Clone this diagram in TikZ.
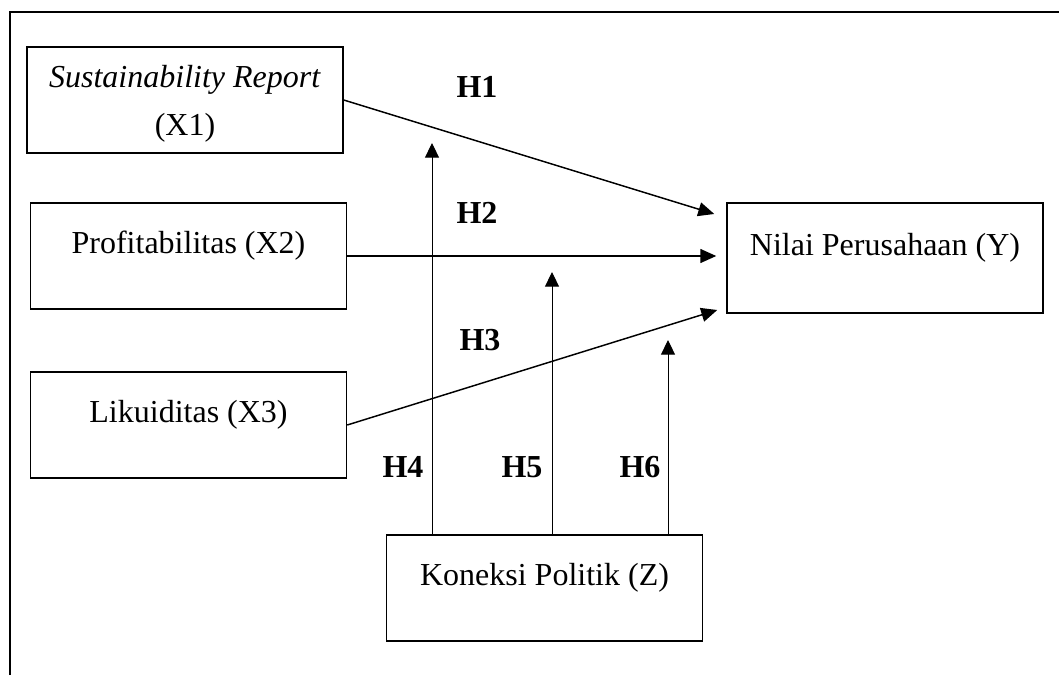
\documentclass[tikz,border=0pt]{standalone}
\usepackage{fontspec}
\setmainfont{Liberation Serif}
\usetikzlibrary{arrows.meta,calc}
\tikzset{
  varbox/.style={draw, line width=1.1pt, minimum width=237pt,
    minimum height=79.5pt, inner sep=0pt, align=center,
    font=\fontsize{24}{36}\selectfont},
  onebox/.style={varbox, text height=18pt, text depth=22pt},
  hlabel/.style={font=\fontsize{24}{28}\selectfont\bfseries, inner sep=0pt},
  arr/.style={-{Triangle[length=12pt,width=10.5pt]}, line width=1.1pt},
  modarr/.style={-{Triangle[length=11pt,width=10.5pt]}, line width=0.75pt}
}
\begin{document}
\begin{tikzpicture}[x=0.75pt,y=-0.75pt]
  \useasboundingbox (0,0) rectangle (1059,675);
  % frame
  \draw[line width=1.4pt] (10,675) -- (10,12) -- (1059,12);
  % variables
  \node[varbox] (X1) at (185,100)
    {\rule{0pt}{23pt}\textit{Sustainability Report}\\(X1)};
  \node[onebox] (X2) at (188.5,256) {Profitabilitas (X2)};
  \node[onebox] (X3) at (188.5,425) {Likuiditas (X3)};
  \node[onebox, minimum height=82.5pt] (Y) at (885,258) {Nilai Perusahaan (Y)};
  \node[onebox] (Z) at (544.5,588) {Koneksi Politik (Z)};
  % direct effects
  \draw[arr] (X1.east) -- ($(Y.west)+(-12,-44)$);
  \draw[arr] (X2.east) -- ($(X2.east -| Y.west)+(-10,0)$);
  \draw[arr] (X3.east) -- ($(Y.west)+(-9,52)$);
  % moderation
  \coordinate (m4) at (432,143);
  \coordinate (m5) at (552,272);
  \coordinate (m6) at (668,340);
  \foreach \m in {m4,m5,m6}
    \draw[modarr] (Z.north -| \m) -- (\m);
  % labels
  \node[hlabel] (h1) at (477,87) {H1};
  \node[hlabel] (h2) at (477,213) {H2};
  \node[hlabel] (h3) at (480,340) {H3};
  \node[hlabel] (h4) at (403,467) {H4};
  \node[hlabel] (h5) at (522,467) {H5};
  \node[hlabel] (h6) at (640,467) {H6};
\end{tikzpicture}
\end{document}
